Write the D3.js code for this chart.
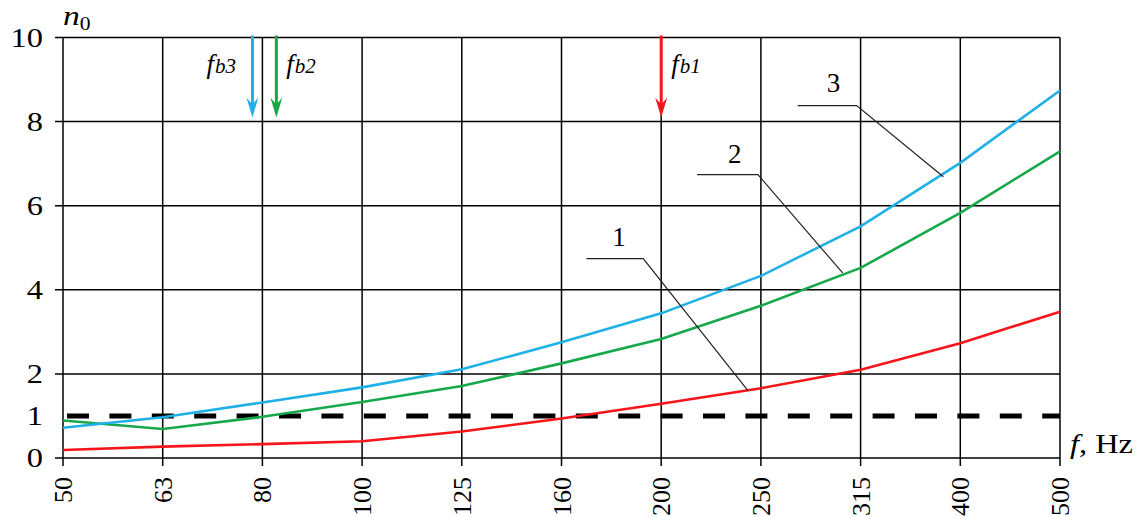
<!DOCTYPE html>
<html>
<head>
<meta charset="utf-8">
<script src="https://cdn.jsdelivr.net/npm/d3@7"></script>
<style>
  body { margin: 0; background: #fff; }
  svg text { font-family: "Times New Roman", "Liberation Serif", Tinos, "DejaVu Serif", serif !important; fill: #000; }
</style>
</head>
<body>
<div id="chart"></div>
<script>
// data
var freqs = ["50", "63", "80", "100", "125", "160", "200", "250", "315", "400", "500"];
var curve1 = [0.19, 0.27, 0.33, 0.40, 0.63, 0.94, 1.29, 1.66, 2.10, 2.73, 3.48];
var curve2 = [0.89, 0.69, 0.98, 1.33, 1.71, 2.25, 2.83, 3.62, 4.52, 5.83, 7.29];
var curve3 = [0.72, 0.97, 1.32, 1.68, 2.11, 2.75, 3.44, 4.33, 5.51, 7.02, 8.74];
var limitLevel = 1;
var yTickLabels = [0, 1, 2, 4, 6, 8, 10];
var yGrid = [0, 2, 4, 6, 8, 10];
// boundary frequencies (position as fractional category index)
var arrowNames = ["b1", "b2", "b3"];
var arrowIndex = [6, 2.14, 1.9];
// curve number labels: text pos, leader start, bend, end (index, value)
var leaderNames = ["1", "2", "3"];
var leaderText = [[5.51, 5.05], [6.67, 7.02], [7.66, 8.71]];
var leaderStart = [[5.25, 4.74], [6.36, 6.74], [7.37, 8.38]];
var leaderBend = [[5.82, 4.74], [6.97, 6.74], [7.96, 8.38]];
var leaderEnd = [[6.87, 1.60], [7.82, 4.40], [8.83, 6.69]];

var colors = { c1: "#f5151b", c2: "#17a84b", c3: "#1fb0e8" };

var svgWidth = 1139;
var svgHeight = 517;
var x0 = 63, x1 = 1060, yBottom = 458, yTop = 37.5;
var stretch = 1.2; // the source picture is a bit wider than tall

var svg = d3
  .select("#chart")
  .append("svg")
  .attr("width", svgWidth)
  .attr("height", svgHeight);

var xScale = d3.scalePoint().domain(freqs).range([x0, x1]);
var xIdx = d3.scaleLinear().domain([0, freqs.length - 1]).range([x0, x1]);
var yScale = d3.scaleLinear().domain([0, 10]).range([yBottom, yTop]);

// grid
svg.append("g")
  .selectAll("line")
  .data(yGrid)
  .enter()
  .append("line")
  .attr("x1", x0 - 8)
  .attr("x2", x1)
  .attr("y1", d => yScale(d))
  .attr("y2", d => yScale(d))
  .attr("stroke", "#000")
  .attr("stroke-width", 1.5);
svg.append("g")
  .selectAll("line")
  .data(freqs)
  .enter()
  .append("line")
  .attr("x1", d => xScale(d))
  .attr("x2", d => xScale(d))
  .attr("y1", yTop)
  .attr("y2", yBottom + 8)
  .attr("stroke", "#000")
  .attr("stroke-width", 1.5);

// axes labels
var leftAxis = d3.axisLeft(yScale).tickValues(yTickLabels).tickSize(0).tickPadding(20).tickFormat(d3.format("d"));
var gy = svg.append("g").attr("transform", `translate(${x0},0)`).call(leftAxis);
gy.select(".domain").remove();
gy.attr("font-family", null);
gy.selectAll("text")
  .attr("font-size", "27px")
  .attr("x", -20 / stretch)
  .attr("transform", `scale(${stretch},1)`);

var bottomAxis = d3.axisBottom(xScale).tickSize(0);
var gx = svg.append("g").attr("transform", `translate(0,${yBottom})`).call(bottomAxis);
gx.select(".domain").remove();
gx.attr("font-family", null);
gx.selectAll("text")
  .attr("transform", "rotate(-90)")
  .attr("text-anchor", "end")
  .attr("x", -19)
  .attr("y", 0)
  .attr("dy", "0.33em")
  .attr("font-size", "26px");

// dashed limit line
svg.append("line")
  .attr("x1", x0)
  .attr("x2", x1)
  .attr("y1", yScale(limitLevel))
  .attr("y2", yScale(limitLevel))
  .attr("stroke", "#000")
  .attr("stroke-width", 5)
  .attr("stroke-dasharray", "22,20.4")
  .attr("stroke-dashoffset", -4);

// curves
var line = d3.line()
  .x((d, i) => xScale(freqs[i]))
  .y(d => yScale(d));
[[curve1, colors.c1], [curve2, colors.c2], [curve3, colors.c3]].forEach(c => {
  svg.append("path")
    .datum(c[0])
    .attr("d", line)
    .attr("fill", "none")
    .attr("stroke", c[1])
    .attr("stroke-width", 2.6);
});

// leaders
leaderNames.forEach((name, i) => {
  svg.append("polyline")
    .attr("points", [leaderStart[i], leaderBend[i], leaderEnd[i]]
      .map(p => xIdx(p[0]) + "," + yScale(p[1])).join(" "))
    .attr("fill", "none")
    .attr("stroke", "#222")
    .attr("stroke-width", 1.2);
  svg.append("text")
    .attr("x", xIdx(leaderText[i][0]))
    .attr("y", yScale(leaderText[i][1]))
    .attr("font-size", "27px")
    .text(name);
});

// boundary arrows
var arrowColors = [colors.c1, colors.c2, colors.c3];
arrowNames.forEach((name, i) => {
  var ax = xIdx(arrowIndex[i]);
  var tipY = yScale(8.1);
  svg.append("line")
    .attr("x1", ax).attr("x2", ax)
    .attr("y1", yTop - 2).attr("y2", tipY - 10)
    .attr("stroke", arrowColors[i])
    .attr("stroke-width", 3);
  svg.append("path")
    .attr("d", `M${ax - 6},${tipY - 20} L${ax},${tipY} L${ax + 6},${tipY - 20} L${ax},${tipY - 13} Z`)
    .attr("fill", arrowColors[i]);
  var tx = name === "b3" ? ax - 46 : ax + 10;
  var t = svg.append("text")
    .attr("x", tx)
    .attr("y", yScale(9.15))
    .attr("font-style", "italic")
    .attr("font-size", "27px");
  t.append("tspan").text("f");
  t.append("tspan").attr("font-size", "21px").attr("dx", 1).text(name);
});

// axis titles
var ny = svg.append("text")
  .attr("x", x0 / stretch)
  .attr("y", 25)
  .attr("transform", `scale(${stretch},1)`)
  .attr("font-size", "28px");
ny.append("tspan").attr("font-style", "italic").text("n");
ny.append("tspan").attr("font-size", "18px").attr("dy", 5).text("0");

var fx = svg.append("text")
  .attr("x", (x1 + 10) / stretch)
  .attr("y", 453)
  .attr("transform", `scale(${stretch},1)`)
  .attr("font-size", "27px");
fx.append("tspan").attr("font-style", "italic").text("f");
fx.append("tspan").text(", Hz");
</script>
</body>
</html>
